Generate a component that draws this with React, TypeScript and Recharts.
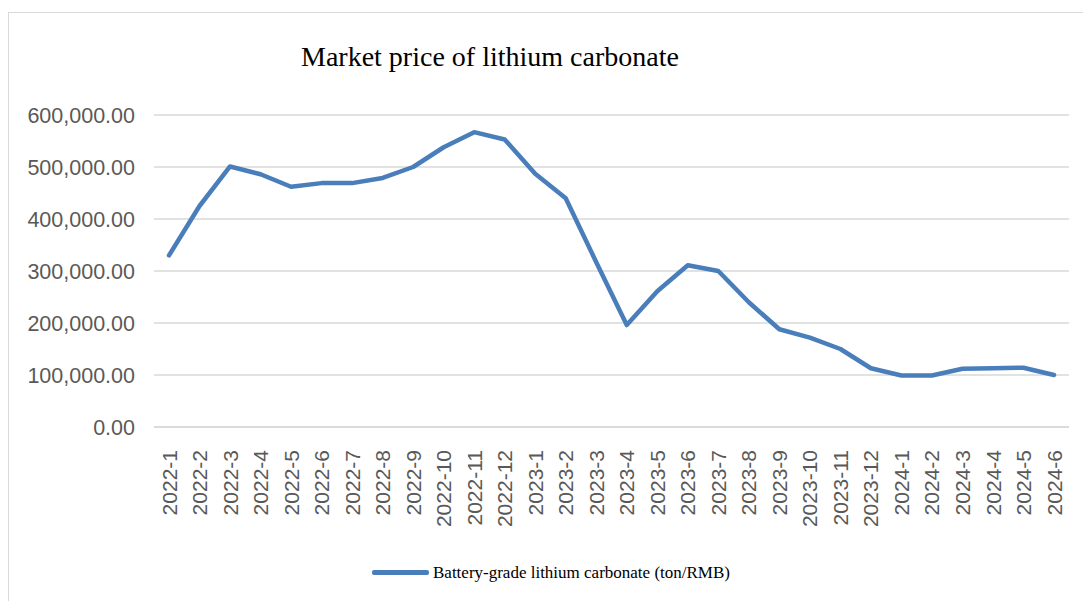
import { CartesianGrid, Line, LineChart, XAxis, YAxis } from "recharts";

const W = 1083;
const H = 601;

const months = [
  "2022-1", "2022-2", "2022-3", "2022-4", "2022-5", "2022-6",
  "2022-7", "2022-8", "2022-9", "2022-10", "2022-11", "2022-12",
  "2023-1", "2023-2", "2023-3", "2023-4", "2023-5", "2023-6",
  "2023-7", "2023-8", "2023-9", "2023-10", "2023-11", "2023-12",
  "2024-1", "2024-2", "2024-3", "2024-4", "2024-5", "2024-6",
];

// battery-grade lithium carbonate, RMB per ton
const prices = [
  330000, 425000, 501000, 486000, 462000, 469000,
  469000, 479000, 500000, 538000, 567000, 553000,
  487000, 440000, 317000, 196000, 261000, 311000,
  300000, 240000, 188000, 172000, 150000, 113000,
  99000, 99000, 112000, 113000, 114000, 100000,
];

const yTicks = [0, 100000, 200000, 300000, 400000, 500000, 600000];

const seriesName = "Battery-grade lithium carbonate (ton/RMB)";
const title = "Market price of lithium carbonate";

const LINE_COLOR = "#4a7ebb";
const AXIS_TEXT = "#595959";
const SANS = "'Liberation Sans', Arial, sans-serif";
const SERIF = "'Liberation Serif', 'Times New Roman', serif";

const data = months.map((m, i) => ({ month: m, price: prices[i] }));

const fmt = (v: number) =>
  v.toLocaleString("en-US", { minimumFractionDigits: 2, maximumFractionDigits: 2 });

function MonthTick({ x, y, payload }: any) {
  return (
    <g transform={`translate(${x},${y})`}>
      <text
        transform="rotate(-90)"
        x={-15}
        y={0}
        dy="0.36em"
        textAnchor="end"
        fill={AXIS_TEXT}
        fontSize={21}
        fontFamily={SANS}
      >
        {payload.value}
      </text>
    </g>
  );
}

function PriceTick({ x, y, payload }: any) {
  return (
    <text
      x={x - 11}
      y={y}
      dy="0.36em"
      textAnchor="end"
      fill={AXIS_TEXT}
      fontSize={21.5}
      fontFamily={SANS}
    >
      {fmt(payload.value)}
    </text>
  );
}

export default function App() {
  return (
    <div
      style={{
        position: "absolute",
        left: 0,
        top: 0,
        width: W,
        height: H,
        overflow: "hidden",
        background: "#fff",
      }}
    >
      {/* chart area frame */}
      <div
        style={{
          position: "absolute",
          left: 8,
          top: 12,
          width: W + 40,
          height: H + 40,
          border: "1.5px solid #d9d9d9",
        }}
      />
      <div
        style={{
          position: "absolute",
          left: 301,
          top: 43,
          fontFamily: SERIF,
          fontSize: 28,
          lineHeight: 1,
          color: "#000",
          whiteSpace: "nowrap",
        }}
      >
        {title}
      </div>
      <div style={{ position: "absolute", left: 0, top: 0 }}>
        <LineChart
          width={W}
          height={H}
          data={data}
          margin={{ top: 115, right: 14, bottom: 0, left: 0 }}
        >
          <CartesianGrid vertical={false} stroke="#d9d9d9" strokeWidth={1.5} />
          <XAxis
            dataKey="month"
            height={174}
            padding={{ left: 15, right: 15 }}
            axisLine={{ stroke: "#d9d9d9", strokeWidth: 1.5 }}
            tickLine={false}
            interval={0}
            tick={<MonthTick />}
          />
          <YAxis
            width={154}
            domain={[0, 600000]}
            ticks={yTicks}
            axisLine={false}
            tickLine={false}
            tick={<PriceTick />}
          />
          <Line
            type="linear"
            dataKey="price"
            name={seriesName}
            stroke={LINE_COLOR}
            strokeWidth={4.5}
            strokeLinejoin="round"
            strokeLinecap="round"
            dot={false}
            activeDot={false}
            isAnimationActive={false}
          />
        </LineChart>
      </div>
      <div
        style={{
          position: "absolute",
          left: 372,
          top: 564,
          display: "flex",
          alignItems: "center",
          fontFamily: SERIF,
          fontSize: 17,
          lineHeight: 1,
          whiteSpace: "nowrap",
        }}
      >
        <span
          style={{
            display: "inline-block",
            width: 57,
            height: 5,
            borderRadius: 2,
            background: LINE_COLOR,
            marginRight: 4,
          }}
        />
        <span>{seriesName}</span>
      </div>
    </div>
  );
}
